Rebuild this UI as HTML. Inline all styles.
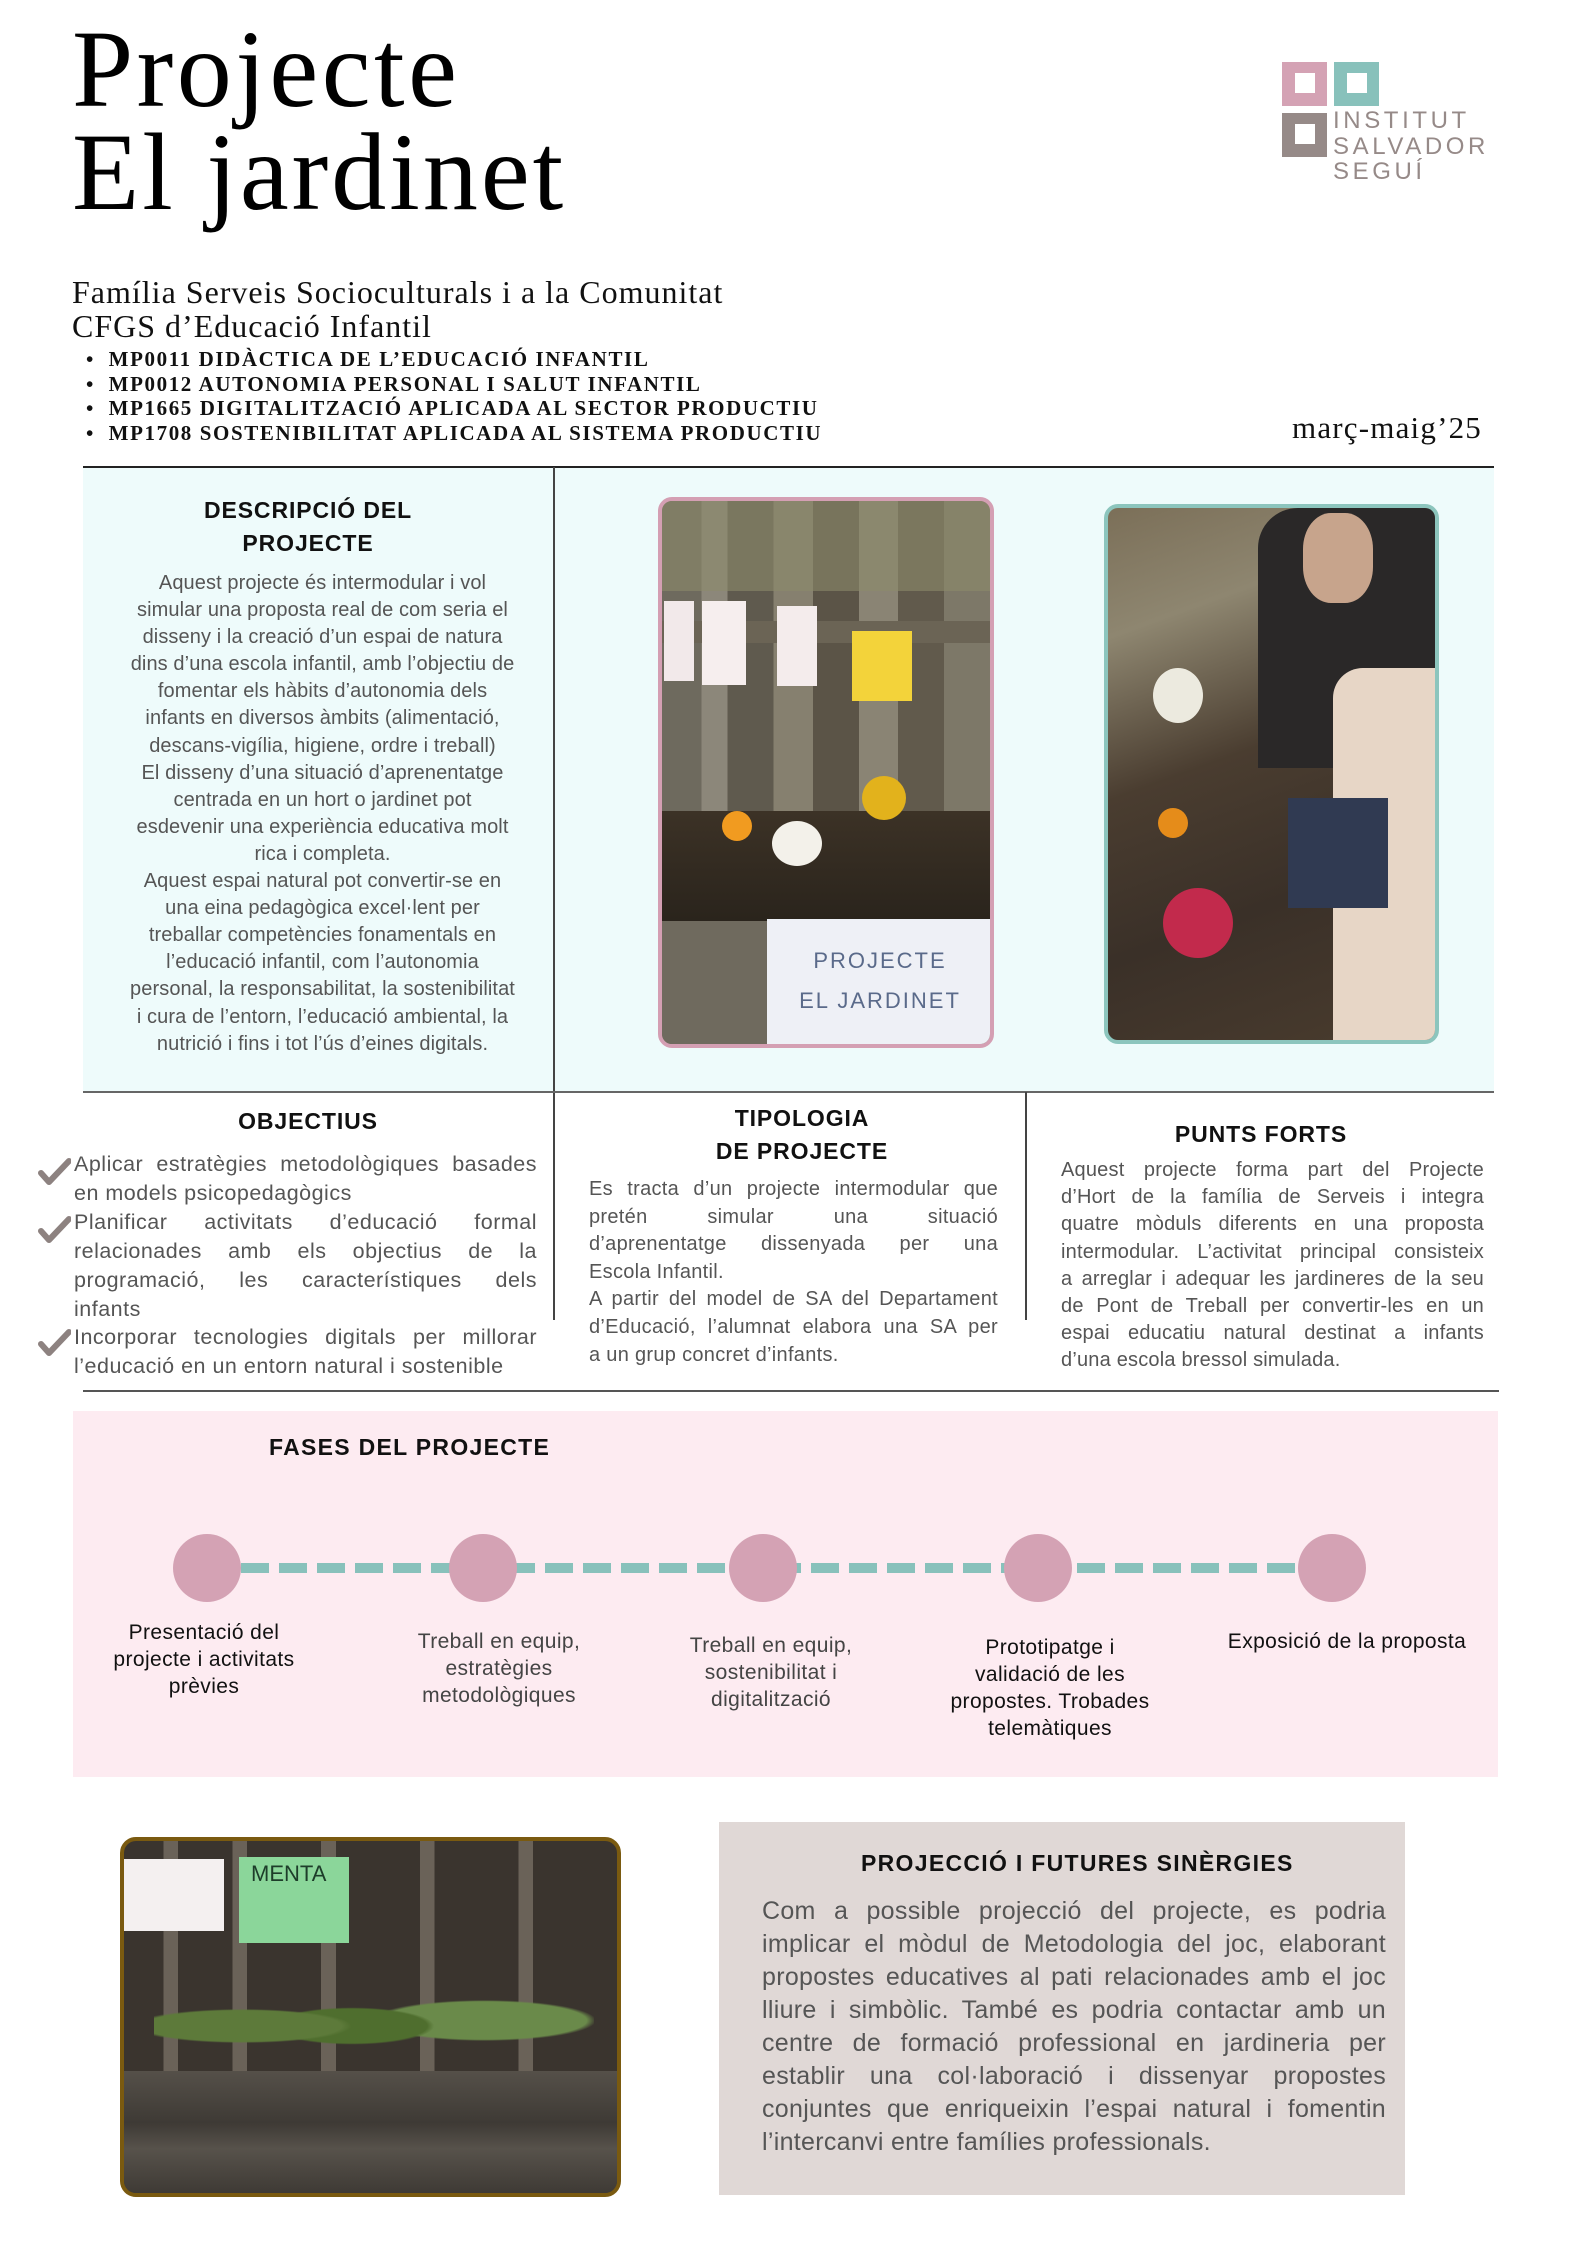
<!DOCTYPE html>
<html><head><meta charset="utf-8"><style>
*{margin:0;padding:0;box-sizing:border-box}
body{width:1587px;height:2245px;position:relative;background:#fff;font-family:"Liberation Sans",sans-serif;overflow:hidden}
.a{position:absolute}
.serif{font-family:"Liberation Serif",serif}
.h{font-family:"Liberation Sans",sans-serif;font-weight:bold;font-size:23px;letter-spacing:0.9px;color:#111;text-align:center;white-space:nowrap}
.body{color:#555;white-space:nowrap}
.j{text-align:justify;text-align-last:justify;white-space:nowrap}
.ln{position:absolute;background:#333}
.sq{position:absolute;width:45px;height:44px}
.sq i{position:absolute;left:13px;top:11px;width:20px;height:20px;background:#fff}
.circ{position:absolute;width:68px;height:68px;border-radius:50%;background:#d4a2b4;top:1534px}
.lab{position:absolute;text-align:center;font-size:21px;letter-spacing:0.4px;line-height:27px;white-space:nowrap;transform:translateX(-50%)}
.chk{position:absolute;width:34px;height:28px}
</style></head><body>

<div class="a serif" style="left:72px;top:14px;font-size:110px;line-height:110px;letter-spacing:3.5px;color:#000">Projecte</div>
<div class="a serif" style="left:72px;top:117px;font-size:110px;line-height:110px;letter-spacing:3px;color:#000">El jardinet</div>

<div class="sq" style="left:1282px;top:62px;background:#d4a2b4"><i></i></div>
<div class="sq" style="left:1334px;top:62px;background:#88c1bb"><i></i></div>
<div class="sq" style="left:1282px;top:113px;background:#968a88"><i></i></div>
<div class="a" style="left:1333px;top:108px;font-size:24px;line-height:25.5px;letter-spacing:3.6px;color:#968a88">INSTITUT<br>SALVADOR<br>SEGUÍ</div>

<div class="a serif" style="left:72px;top:275px;font-size:32px;line-height:34px;letter-spacing:1px;color:#111;white-space:nowrap">Família Serveis Socioculturals i a la Comunitat<br>CFGS d’Educació Infantil</div>
<div class="a serif" style="left:86px;top:347px;font-size:21px;line-height:24.5px;letter-spacing:1.6px;font-weight:bold;color:#111;white-space:nowrap">
•&nbsp; MP0011 DIDÀCTICA DE L’EDUCACIÓ INFANTIL<br>
•&nbsp; MP0012 AUTONOMIA PERSONAL I SALUT INFANTIL<br>
•&nbsp; MP1665 DIGITALITZACIÓ APLICADA AL SECTOR PRODUCTIU<br>
•&nbsp; MP1708 SOSTENIBILITAT APLICADA AL SISTEMA PRODUCTIU</div>
<div class="a serif" style="left:1292px;top:411px;font-size:31px;line-height:34px;letter-spacing:1.2px;color:#111;white-space:nowrap">març-maig’25</div>

<div class="a" style="left:83px;top:467px;width:1411px;height:625px;background:#eefbfb"></div>
<div class="ln" style="left:83px;top:466px;width:1411px;height:2px;background:#222"></div>
<div class="ln" style="left:553px;top:467px;width:1.5px;height:853px;background:#444"></div>
<div class="ln" style="left:83px;top:1091px;width:1411px;height:2px;background:#666"></div>
<div class="ln" style="left:1025px;top:1092px;width:1.5px;height:228px;background:#444"></div>
<div class="ln" style="left:83px;top:1390px;width:1416px;height:1.5px;background:#555"></div>

<div class="a h" style="left:108px;width:400px;top:494px;line-height:33px">DESCRIPCIÓ DEL<br>PROJECTE</div>
<div class="a body" style="left:110px;width:425px;top:570px;font-size:20px;line-height:27.1px;text-align:center;letter-spacing:0.1px">
Aquest projecte és intermodular i vol<br>
simular una proposta real de com seria el<br>
disseny i la creació d’un espai de natura<br>
dins d’una escola infantil, amb l’objectiu de<br>
fomentar els hàbits d’autonomia dels<br>
infants en diversos àmbits (alimentació,<br>
descans-vigília, higiene, ordre i treball)<br>
El disseny d’una situació d’aprenentatge<br>
centrada en un hort o jardinet pot<br>
esdevenir una experiència educativa molt<br>
rica i completa.<br>
Aquest espai natural pot convertir-se en<br>
una eina pedagògica excel·lent per<br>
treballar competències fonamentals en<br>
l’educació infantil, com l’autonomia<br>
personal, la responsabilitat, la sostenibilitat<br>
i cura de l’entorn, l’educació ambiental, la<br>
nutrició i fins i tot l’ús d’eines digitals.</div>

<div class="a" style="left:658px;top:497px;width:336px;height:551px;border:4px solid #d49fb3;border-radius:14px;overflow:hidden;background:linear-gradient(90deg,#6e6a5e 0 12%,#8c877a 12% 20%,#5f5a4e 20% 34%,#86806f 34% 46%,#5b5447 46% 60%,#8a8474 60% 72%,#615a4c 72% 86%,#7d7868 86%)">
  <div class="a" style="left:0;top:0;width:100%;height:90px;background:#8c8a6a;opacity:.6"></div>
  <div class="a" style="left:0;top:120px;width:100%;height:22px;background:#6b6455"></div>
  <div class="a" style="left:2px;top:100px;width:30px;height:80px;background:#f2e9ea"></div>
  <div class="a" style="left:40px;top:100px;width:44px;height:84px;background:#f6eeee"></div>
  <div class="a" style="left:115px;top:105px;width:40px;height:80px;background:#f4ecec"></div>
  <div class="a" style="left:190px;top:130px;width:60px;height:70px;background:#f3d33a"></div>
  <div class="a" style="left:0;top:310px;width:100%;height:110px;background:linear-gradient(180deg,#3c3226,#2a241c)"></div>
  <div class="a" style="left:60px;top:310px;width:30px;height:30px;border-radius:50%;background:#f19b20"></div>
  <div class="a" style="left:110px;top:320px;width:50px;height:45px;border-radius:50%;background:#f3f1ea"></div>
  <div class="a" style="left:200px;top:275px;width:44px;height:44px;border-radius:50%;background:#e2b21c"></div>
  <div class="a" style="left:0;top:420px;width:100%;height:130px;background:#6f6a5e"></div>
  <div class="a" style="left:105px;top:418px;width:226px;height:130px;background:#eef0f6;color:#5a6a8a;font-size:22px;text-align:center;padding-top:22px;line-height:40px;letter-spacing:2px">PROJECTE<br>EL JARDINET</div>
</div>

<div class="a" style="left:1104px;top:504px;width:335px;height:540px;border:4px solid #8cc5bd;border-radius:14px;overflow:hidden;background:linear-gradient(160deg,#7b6f58 0%,#8e8670 20%,#4a3d30 45%,#3a3028 70%,#4a3c2e 100%)">
  <div class="a" style="left:150px;top:0;width:185px;height:260px;background:#2a2828;border-radius:40px 0 0 0"></div>
  <div class="a" style="left:195px;top:5px;width:70px;height:90px;border-radius:40%;background:#c7a48c"></div>
  <div class="a" style="left:225px;top:160px;width:110px;height:380px;background:#e7d6c6;border-radius:30px 0 0 0"></div>
  <div class="a" style="left:180px;top:290px;width:100px;height:110px;background:#303a52"></div>
  <div class="a" style="left:45px;top:160px;width:50px;height:55px;border-radius:50%;background:#eceadf"></div>
  <div class="a" style="left:50px;top:300px;width:30px;height:30px;border-radius:50%;background:#e58c1a"></div>
  <div class="a" style="left:55px;top:380px;width:70px;height:70px;border-radius:50%;background:#c22a4c"></div>
</div>

<div class="a h" style="left:108px;width:400px;top:1106px;line-height:30px">OBJECTIUS</div>
<svg class="chk" style="left:37px;top:1158px" viewBox="0 0 34 28"><polyline points="4,15 12,24 32,3" fill="none" stroke="#8d8280" stroke-width="6" stroke-linejoin="round" stroke-linecap="round"/></svg>
<svg class="chk" style="left:37px;top:1216px" viewBox="0 0 34 28"><polyline points="4,15 12,24 32,3" fill="none" stroke="#8d8280" stroke-width="6" stroke-linejoin="round" stroke-linecap="round"/></svg>
<svg class="chk" style="left:37px;top:1329px" viewBox="0 0 34 28"><polyline points="4,15 12,24 32,3" fill="none" stroke="#8d8280" stroke-width="6" stroke-linejoin="round" stroke-linecap="round"/></svg>
<div class="a body" style="left:74px;width:463px;top:1150px;font-size:21.5px;line-height:28.9px;letter-spacing:0.5px;color:#555">
<div class="j">Aplicar estratègies metodològiques basades</div>
<div>en models psicopedagògics</div>
<div class="j">Planificar activitats d’educació formal</div>
<div class="j">relacionades amb els objectius de la</div>
<div class="j">programació, les característiques dels</div>
<div>infants</div>
<div class="j">Incorporar tecnologies digitals per millorar</div>
<div>l’educació en un entorn natural i sostenible</div>
</div>

<div class="a h" style="left:602px;width:400px;top:1102px;line-height:33px">TIPOLOGIA<br>DE PROJECTE</div>
<div class="a body" style="left:589px;width:409px;top:1176px;font-size:20px;line-height:27.6px;letter-spacing:0.3px">
<div class="j">Es tracta d’un projecte intermodular que</div>
<div class="j">pretén simular una situació</div>
<div class="j">d’aprenentatge dissenyada per una</div>
<div>Escola Infantil.</div>
<div class="j">A partir del model de SA del Departament</div>
<div class="j">d’Educació, l’alumnat elabora una SA per</div>
<div>a un grup concret d’infants.</div>
</div>

<div class="a h" style="left:1061px;width:400px;top:1119px;line-height:30px">PUNTS FORTS</div>
<div class="a body" style="left:1061px;width:423px;top:1157px;font-size:20px;line-height:27.2px;letter-spacing:0.2px">
<div class="j">Aquest projecte forma part del Projecte</div>
<div class="j">d’Hort de la família de Serveis i integra</div>
<div class="j">quatre mòduls diferents en una proposta</div>
<div class="j">intermodular. L’activitat principal consisteix</div>
<div class="j">a arreglar i adequar les jardineres de la seu</div>
<div class="j">de Pont de Treball per convertir-les en un</div>
<div class="j">espai educatiu natural destinat a infants</div>
<div>d’una escola bressol simulada.</div>
</div>

<div class="a" style="left:73px;top:1411px;width:1425px;height:366px;background:#fdebf1"></div>
<div class="a h" style="left:269px;top:1434px;line-height:26px;text-align:left;letter-spacing:1.3px">FASES DEL PROJECTE</div>
<svg class="a" style="left:0;top:1560px" width="1587" height="16"><line x1="241" y1="8" x2="1300" y2="8" stroke="#88c1bb" stroke-width="10" stroke-dasharray="28 10"/></svg>
<div class="circ" style="left:173px"></div>
<div class="circ" style="left:449px"></div>
<div class="circ" style="left:729px"></div>
<div class="circ" style="left:1004px"></div>
<div class="circ" style="left:1298px"></div>
<div class="lab" style="left:204px;top:1619px;color:#111">Presentació del<br>projecte i activitats<br>prèvies</div>
<div class="lab" style="left:499px;top:1628px;color:#444">Treball en equip,<br>estratègies<br>metodològiques</div>
<div class="lab" style="left:771px;top:1632px;color:#444">Treball en equip,<br>sostenibilitat i<br>digitalització</div>
<div class="lab" style="left:1050px;top:1634px;color:#111">Prototipatge i<br>validació de les<br>propostes. Trobades<br>telemàtiques</div>
<div class="lab" style="left:1347px;top:1628px;color:#111">Exposició de la proposta</div>

<div class="a" style="left:120px;top:1837px;width:501px;height:360px;border:4px solid #7a5a10;border-radius:16px;overflow:hidden;background:linear-gradient(90deg,#3a342e 0 8%,#6a6258 8% 11%,#3a342e 11% 22%,#6a6258 22% 25%,#3a342e 25% 40%,#6a6258 40% 43%,#3a342e 43% 60%,#6a6258 60% 63%,#3a342e 63% 80%,#6a6258 80% 83%,#3a342e 83%)">
  <div class="a" style="left:0;top:18px;width:100px;height:72px;background:#f4f0f0"></div>
  <div class="a" style="left:115px;top:16px;width:110px;height:86px;background:#8bd69a;color:#1d3d2a;font-size:22px;padding:4px 0 0 12px">MENTA</div>
  <div class="a" style="left:30px;top:130px;width:440px;height:110px;background:radial-gradient(ellipse at 20% 50%,#5d7a3a 0 20%,transparent 22%),radial-gradient(ellipse at 45% 50%,#4f6e2e 0 22%,transparent 24%),radial-gradient(ellipse at 75% 45%,#6a8a4a 0 22%,transparent 24%)"></div>
  <div class="a" style="left:0;top:230px;width:100%;height:130px;background:linear-gradient(180deg,#555049,#3e3a35 40%,#57524b 60%,#3a3631)"></div>
</div>

<div class="a" style="left:719px;top:1822px;width:686px;height:373px;background:#e0d8d6"></div>
<div class="a h" style="left:861px;width:400px;top:1849px;line-height:28px;letter-spacing:1.3px">PROJECCIÓ I FUTURES SINÈRGIES</div>
<div class="a body" style="left:762px;width:624px;top:1895px;font-size:25px;line-height:33px;letter-spacing:0.3px;color:#555">
<div class="j">Com a possible projecció del projecte, es podria</div>
<div class="j">implicar el mòdul de Metodologia del joc, elaborant</div>
<div class="j">propostes educatives al pati relacionades amb el joc</div>
<div class="j">lliure i simbòlic. També es podria contactar amb un</div>
<div class="j">centre de formació professional en jardineria per</div>
<div class="j">establir una col·laboració i dissenyar propostes</div>
<div class="j">conjuntes que enriqueixin l’espai natural i fomentin</div>
<div>l’intercanvi entre famílies professionals.</div>
</div>
</body></html>
